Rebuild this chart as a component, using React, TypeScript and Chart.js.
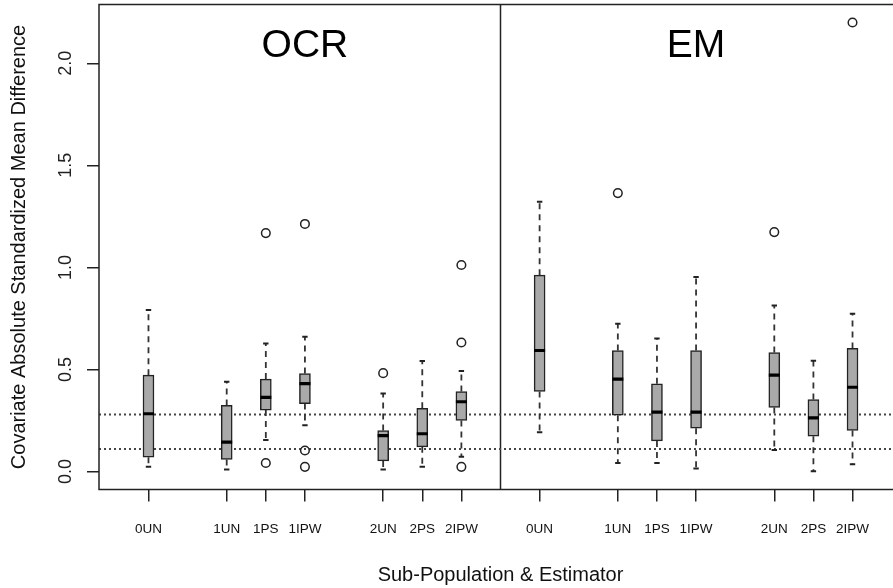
import { useEffect, useRef } from 'react';
import { Chart, registerables } from 'chart.js';

Chart.register(...registerables);

// ---- data ----
const positions = [1, 3, 4, 5, 7, 8, 9, 11, 13, 14, 15, 17, 18, 19];
const tickLabels = ['0UN', '1UN', '1PS', '1IPW', '2UN', '2PS', '2IPW', '0UN', '1UN', '1PS', '1IPW', '2UN', '2PS', '2IPW'];
const panelTitles = ['OCR', 'EM'];
const panelTitlePositions = [5, 15];
const panelDivider = 10;
const yTickValues = [0, 0.5, 1, 1.5, 2];
const referenceLines = [0.28, 0.11];

const whiskerLow = [0.023, 0.010, 0.154, 0.227, 0.010, 0.023, 0.073, 0.193, 0.042, 0.042, 0.015, 0.106, 0.002, 0.036];
const q1 = [0.070, 0.059, 0.301, 0.333, 0.052, 0.121, 0.250, 0.392, 0.276, 0.150, 0.212, 0.314, 0.173, 0.201];
const medians = [0.283, 0.144, 0.363, 0.431, 0.176, 0.185, 0.342, 0.593, 0.453, 0.291, 0.291, 0.472, 0.263, 0.413];
const q3 = [0.472, 0.324, 0.453, 0.480, 0.201, 0.310, 0.392, 0.962, 0.593, 0.430, 0.593, 0.583, 0.353, 0.603];
const whiskerHigh = [0.791, 0.440, 0.627, 0.660, 0.382, 0.541, 0.493, 1.322, 0.724, 0.652, 0.953, 0.814, 0.543, 0.773];
const outliers: number[][] = [
  [], [], [0.042, 1.168], [0.103, 0.023, 1.213], [0.482], [], [0.023, 0.632, 1.012],
  [], [1.364], [], [], [1.173], [], [2.2],
];

const X_MIN = -0.265;
const X_MAX = 20.265;
const Y_MIN = -0.088;
const Y_MAX = 2.288;

const FONT = '"Liberation Sans", Arial, Helvetica, sans-serif';

export default function App() {
  const ref = useRef<HTMLCanvasElement | null>(null);

  useEffect(() => {
    if (!ref.current) return;

    const whiskerData: any[] = [];
    positions.forEach((p, i) => {
      whiskerData.push({ x: p, y: q3[i] }, { x: p, y: whiskerHigh[i] }, { x: p, y: null });
      whiskerData.push({ x: p, y: q1[i] }, { x: p, y: whiskerLow[i] }, { x: p, y: null });
    });
    const capData: any[] = [];
    positions.forEach((p, i) => {
      capData.push({ x: p, y: whiskerHigh[i] }, { x: p, y: whiskerLow[i] });
    });
    const outlierData: any[] = [];
    positions.forEach((p, i) => outliers[i].forEach((v) => outlierData.push({ x: p, y: v })));

    const framePlugin = {
      id: 'frameAndTitles',
      afterDraw(chart: any) {
        const { ctx, chartArea, scales } = chart;
        ctx.save();
        ctx.strokeStyle = '#222';
        ctx.lineWidth = 1.5;
        ctx.strokeRect(chartArea.left, chartArea.top, chartArea.right - chartArea.left, chartArea.bottom - chartArea.top);
        ctx.fillStyle = '#000';
        ctx.font = `39px ${FONT}`;
        ctx.textAlign = 'center';
        ctx.textBaseline = 'alphabetic';
        panelTitles.forEach((t, i) => {
          ctx.fillText(t, scales.x.getPixelForValue(panelTitlePositions[i]), chartArea.top + 52);
        });
        ctx.restore();
      },
    };

    const chart = new Chart(ref.current, {
      type: 'scatter',
      data: {
        datasets: [
          {
            type: 'scatter',
            label: 'outliers',
            data: outlierData,
            pointStyle: 'circle',
            pointRadius: 4.3,
            pointBorderWidth: 1.5,
            pointBorderColor: '#222',
            pointBackgroundColor: 'rgba(0,0,0,0)',
            order: 0,
          } as any,
          {
            type: 'scatter',
            label: 'median',
            data: positions.map((p, i) => ({ x: p, y: medians[i] })),
            pointStyle: 'line',
            pointRadius: 5.5,
            pointBorderWidth: 3.2,
            pointBorderColor: '#000',
            order: 1,
          } as any,
          {
            type: 'scatter',
            label: 'caps',
            data: capData,
            pointStyle: 'line',
            pointRadius: 2.7,
            pointBorderWidth: 2,
            pointBorderColor: '#222',
            order: 2,
          } as any,
          {
            type: 'bar',
            label: 'boxes',
            data: positions.map((p, i) => ({ x: p, y: [q1[i], q3[i]] })),
            backgroundColor: '#a9a9a9',
            borderColor: '#222',
            borderWidth: 1.5,
            borderSkipped: false,
            barThickness: 11,
            grouped: false,
            order: 3,
          } as any,
          {
            type: 'line',
            label: 'whiskers',
            data: whiskerData,
            borderColor: '#333',
            borderWidth: 1.8,
            borderDash: [6, 5],
            pointRadius: 0,
            showLine: true,
            spanGaps: false,
            fill: false,
            tension: 0,
            order: 4,
          } as any,
          ...referenceLines.map((v) => ({
            type: 'line',
            label: 'ref',
            data: [{ x: X_MIN, y: v }, { x: X_MAX, y: v }],
            borderColor: '#444',
            borderWidth: 2,
            borderDash: [2, 3],
            pointRadius: 0,
            showLine: true,
            fill: false,
            order: 5,
          } as any)),
          {
            type: 'line',
            label: 'divider',
            data: [{ x: panelDivider, y: Y_MIN }, { x: panelDivider, y: Y_MAX }],
            borderColor: '#222',
            borderWidth: 1.5,
            pointRadius: 0,
            showLine: true,
            fill: false,
            order: 5,
          } as any,
        ],
      },
      options: {
        responsive: false,
        devicePixelRatio: 1,
        animation: false,
        events: [],
        layout: { autoPadding: false, padding: { left: 0, top: 4.5, right: 8, bottom: 0 } },
        plugins: { legend: { display: false }, tooltip: { enabled: false } },
        scales: {
          x: {
            type: 'linear',
            min: X_MIN,
            max: X_MAX,
            offset: false,
            grid: { drawOnChartArea: false, drawTicks: true, tickLength: 12, color: '#222', lineWidth: 1.5, offset: false },
            border: { display: false },
            afterBuildTicks: (s: any) => {
              s.ticks = positions.map((v) => ({ value: v }));
            },
            afterFit: (s: any) => {
              s.height = 98.5;
              s.paddingLeft = 0;
              s.paddingRight = 0;
            },
            ticks: {
              autoSkip: false,
              maxRotation: 0,
              minRotation: 0,
              padding: 20,
              color: '#111',
              font: { family: FONT, size: 13.5 },
              callback: (_v: any, i: number) => tickLabels[i],
            },
            title: {
              display: true,
              text: 'Sub-Population & Estimator',
              color: '#111',
              font: { family: FONT, size: 20 },
              padding: { top: 0, bottom: 1 },
            },
          },
          y: {
            type: 'linear',
            min: Y_MIN,
            max: Y_MAX,
            grid: { drawOnChartArea: false, drawTicks: true, tickLength: 12, color: '#222', lineWidth: 1.5 },
            border: { display: false },
            afterBuildTicks: (s: any) => {
              s.ticks = yTickValues.map((v) => ({ value: v }));
            },
            afterFit: (s: any) => {
              s.width = 99;
              s.paddingTop = 0;
              s.paddingBottom = 0;
            },
            ticks: {
              minRotation: 90,
              maxRotation: 90,
              crossAlign: 'center',
              padding: 8.5,
              color: '#222',
              font: { family: FONT, size: 18 },
              callback: (v: any) => Number(v).toFixed(1),
            },
            title: {
              display: true,
              text: 'Covariate Absolute Standardized Mean Difference',
              color: '#111',
              font: { family: FONT, size: 20 },
              padding: { top: 7, bottom: 0 },
            },
          },
        },
      } as any,
      plugins: [framePlugin],
    });

    return () => chart.destroy();
  }, []);

  return (
    <div style={{ position: 'fixed', left: 0, top: 0, width: 893, height: 588, overflow: 'hidden', background: '#fff' }}>
      <canvas ref={ref} width={910} height={588} style={{ display: 'block' }} />
    </div>
  );
}
